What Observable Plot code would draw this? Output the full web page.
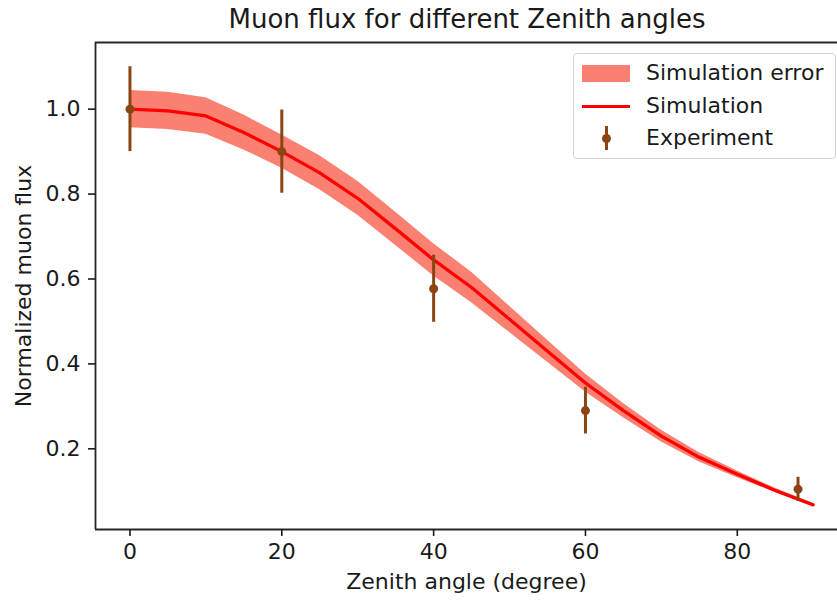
<!DOCTYPE html>
<html>
<head>
<meta charset="utf-8">
<script src="https://cdn.jsdelivr.net/npm/d3@7"></script>
<script src="https://cdn.jsdelivr.net/npm/@observablehq/plot@0.6"></script>
<style>
  html, body { margin: 0; padding: 0; background: #fff; overflow: hidden; }
  #wrap { position: relative; width: 837px; height: 601px; font-family: "DejaVu Sans", sans-serif; color: #1a1a1a; }
  #title { position: absolute; left: 167px; width: 600px; top: 3px; text-align: center; font-size: 26px; line-height: 32px; }
  #legend { position: absolute; left: 573px; top: 53px; width: 261px; height: 104px; border: 1px solid #d4d4d4; border-radius: 4px; background: rgba(255,255,255,0.85); font-size: 22px; }
  .row { position: absolute; left: 0; height: 32px; width: 100%; }
  .row span.lab { position: absolute; left: 72px; top: 2px; line-height: 28px; white-space: nowrap; }
  .sw { position: absolute; }
</style>
</head>
<body>
<div id="wrap">
  <div id="chart"></div>
  <div id="title">Muon flux for different Zenith angles</div>
  <div id="legend"></div>
</div>
<script>
// Simulation curve (zenith angle in degrees → normalized flux) and its error band half-width
const simAngle = [0, 5, 10, 15, 20, 25, 30, 35, 40, 45, 50, 55, 60, 65, 70, 75, 80, 85, 90];
const simFlux  = [1.000, 0.996, 0.984, 0.945, 0.900, 0.850, 0.790, 0.718, 0.645, 0.580, 0.505, 0.430, 0.355, 0.290, 0.230, 0.180, 0.140, 0.102, 0.068];
const simErr   = [0.044, 0.044, 0.043, 0.041, 0.039, 0.040, 0.040, 0.039, 0.038, 0.036, 0.031, 0.026, 0.021, 0.017, 0.014, 0.011, 0.008, 0.005, 0.003];

// Experimental points
const expAngle = [0, 20, 40, 60, 88];
const expFlux  = [1.000, 0.900, 0.577, 0.290, 0.105];
const expErr   = [0.100, 0.098, 0.079, 0.055, 0.028];

// Axes
const xTicks = [0, 20, 40, 60, 80];
const yTicks = [0.2, 0.4, 0.6, 0.8, 1.0];
const xDomain = [-4.54, 93.2];
const yDomain = [0.01, 1.157];

const xLabel = "Zenith angle (degree)";
const yLabel = "Normalized muon flux";
const legendLabels = ["Simulation error", "Simulation", "Experiment"];

const sim = simAngle.map((a, i) => ({angle: a, flux: simFlux[i], lo: simFlux[i] - simErr[i], hi: simFlux[i] + simErr[i]}));
const exp = expAngle.map((a, i) => ({angle: a, flux: expFlux[i], lo: expFlux[i] - expErr[i], hi: expFlux[i] + expErr[i]}));

const bandColor = "#FA8072";
const lineColor = "#FF0000";
const expColor = "#8B4513";
const spine = "#262626";

const chart = Plot.plot({
  width: 837,
  height: 601,
  marginLeft: 95,
  marginRight: 0,
  marginTop: 42,
  marginBottom: 72,
  style: {fontFamily: "DejaVu Sans, sans-serif", fontSize: "22px", color: "#1a1a1a", background: "white", overflow: "visible"},
  x: {domain: xDomain},
  y: {domain: yDomain},
  marks: [
    Plot.areaY(sim, {x: "angle", y1: "lo", y2: "hi", fill: bandColor, fillOpacity: 1}),
    Plot.line(sim, {x: "angle", y: "flux", stroke: lineColor, strokeWidth: 3.3}),
    Plot.ruleX(exp, {x: "angle", y1: "lo", y2: "hi", stroke: expColor, strokeWidth: 3}),
    Plot.dot(exp, {x: "angle", y: "flux", r: 4.5, fill: expColor, stroke: "none"}),
    Plot.ruleX([xDomain[0]], {stroke: spine, strokeWidth: 1.8}),
    Plot.ruleY([yDomain[0]], {stroke: spine, strokeWidth: 1.8}),
    Plot.ruleY([yDomain[1]], {stroke: spine, strokeWidth: 1.8}),
    Plot.axisX({ticks: xTicks, tickSize: 7, tickPadding: 7, strokeWidth: 1.6, fontSize: 22,
      label: xLabel, labelAnchor: "center", labelArrow: "none", labelOffset: 59}),
    Plot.axisY({ticks: yTicks, tickFormat: d3.format(".1f"), tickSize: 7, tickPadding: 8, strokeWidth: 1.6, fontSize: 22,
      label: yLabel, labelAnchor: "center", labelArrow: "none", labelOffset: 80})
  ]
});
document.getElementById("chart").appendChild(chart);

// Legend (HTML overlay)
const legend = document.getElementById("legend");
legendLabels.forEach((lab, i) => {
  const row = document.createElement("div");
  row.className = "row";
  row.style.top = (3 + i * 32.5) + "px";
  let sw;
  if (i === 0) {
    sw = `<div class="sw" style="left:8px;top:8px;width:48px;height:17px;background:${bandColor}"></div>`;
  } else if (i === 1) {
    sw = `<div class="sw" style="left:8px;top:15px;width:48px;height:3px;background:${lineColor}"></div>`;
  } else {
    sw = `<div class="sw" style="left:30.5px;top:4px;width:3px;height:24px;background:${expColor}"></div>` +
         `<div class="sw" style="left:27.5px;top:11.5px;width:9px;height:9px;border-radius:50%;background:${expColor}"></div>`;
  }
  row.innerHTML = sw + `<span class="lab">${lab}</span>`;
  legend.appendChild(row);
});
</script>
</body>
</html>
